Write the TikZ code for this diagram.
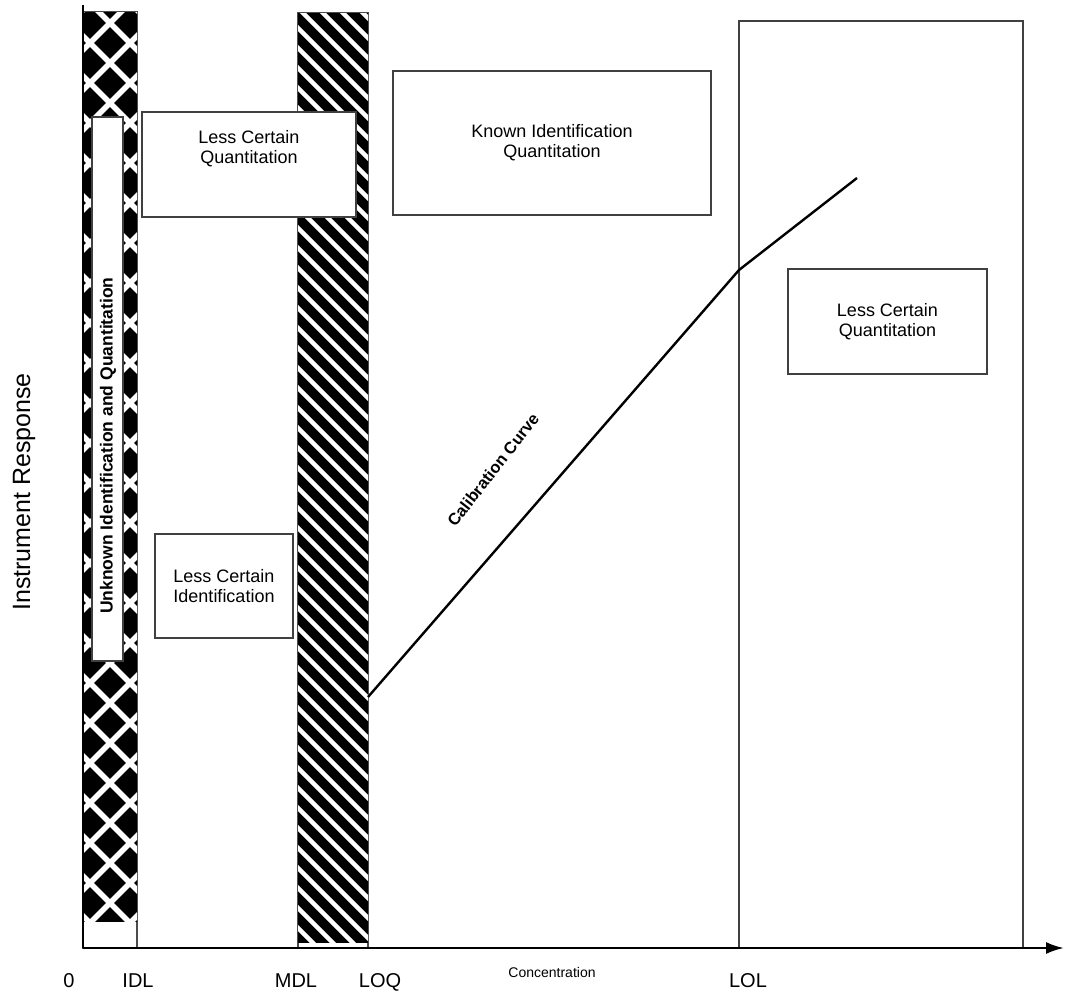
\documentclass[tikz,border=0pt]{standalone}
\usepackage{fontspec}
\setmainfont{Liberation Sans}
\usetikzlibrary{arrows.meta, positioning}

\begin{document}
\begin{tikzpicture}[x=1pt, y=-1pt,
		box/.style={draw=black!75, line width=1.2pt, fill=white, inner sep=0pt},
		txt/.style={align=center, font=\fontsize{18}{20}\selectfont},
		tick/.style={anchor=base, font=\fontsize{20}{24}\selectfont},
		axisline/.style={line width=2.4pt, black}]
	\useasboundingbox (0,0) rectangle (1066,991);
	\coordinate (o) at (83,948);
	\coordinate (ytop) at (83,5);
	\coordinate (xend) at (1064,948);

	% IDL band, cross hatched
	\draw[black!70, line width=1.2pt, fill=white] (83,12) rectangle (137,948);
	\begin{scope}
		\clip (83,12) rectangle (137,922);
		\fill[black] (83,12) rectangle (137,922);
		\foreach \c in {-873,-833,...,150}
			\draw[white, line width=5.5pt] (\c,0) -- ++(1000,1000);
		\foreach \c in {13,53,...,1100}
			\draw[white, line width=5.5pt] (\c,0) -- ++(-1000,1000);
	\end{scope}

	% MDL - LOQ band, striped
	\draw[black!70, line width=1.2pt, fill=white] (298,13) rectangle (368,948);
	\begin{scope}
		\clip (298,13) rectangle (368,943);
		\fill[black] (298,13) rectangle (368,943);
		\foreach \y in {-100,-80,...,960}
			\draw[white, line width=4.5pt] (290,\y) -- ++(100,100);
	\end{scope}

	% LOL region
	\node[box, fill=none, minimum width=284pt, minimum height=927pt] (lol) at (881,484.5) {};

	% regions
	\node[box, minimum width=31pt, minimum height=544pt] (unk) at (107.5,389) {};
	\node[rotate=90, anchor=west, inner sep=0pt, font=\fontsize{17.5}{20}\selectfont\bfseries] (unkt) at (108,614) {Unknown Identification and Quantitation};
	\node[box, minimum width=214pt, minimum height=105pt] (lcq) at (249,164.5) {};
	\node[txt] (lcqt) at (249,149) {Less Certain\\Quantitation};
	\node[box, minimum width=138pt, minimum height=104pt] (lci) at (224,586) {};
	\node[txt] (lcit) at (lci) {Less Certain\\Identification};
	\node[box, minimum width=318pt, minimum height=144pt] (kiq) at (552,143) {};
	\node[txt] (kiqt) at (kiq) {Known Identification\\Quantitation};
	\node[box, minimum width=199pt, minimum height=105pt] (lcr) at (887.5,321.5) {};
	\node[txt] (lcrt) at (lcr) {Less Certain\\Quantitation};

	% calibration curve
	\coordinate (c0) at (368,697);
	\coordinate (c1) at (739,270);
	\coordinate (c2) at (857,178);
	\draw[line width=2.4pt] (c0) -- (c1) -- (c2);
	\node[rotate=52, font=\fontsize{16.5}{18}\selectfont\bfseries] (calt) at (493,470) {Calibration Curve};

	% axes
	\draw[axisline] (ytop) -- (o);
	\draw[axisline, -{Latex[length=18pt, width=12pt]}] (o) -- (xend);
	\node[rotate=90, font=\fontsize{25}{28}\selectfont] (ylab) at (24,492) {Instrument Response};
	\node[tick] (t0) at (69,987) {0};
	\node[tick] (tidl) at (138,987) {IDL};
	\node[tick] (tmdl) at (296,987) {MDL};
	\node[tick] (tloq) at (380,987) {LOQ};
	\node[anchor=base, font=\fontsize{14}{16}\selectfont] (conc) at (552,977) {Concentration};
	\node[tick] (tlol) at (748,987) {LOL};
\end{tikzpicture}
\end{document}
